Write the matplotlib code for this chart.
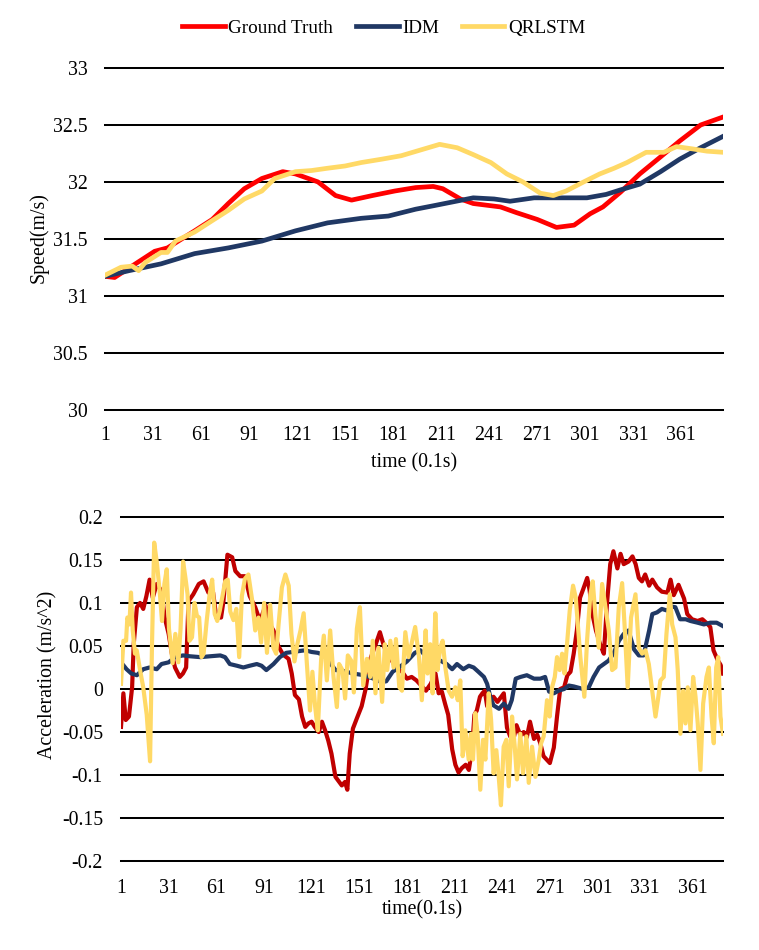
import numpy as np
import matplotlib
matplotlib.use("Agg")
import matplotlib.pyplot as plt

plt.rcParams['font.family'] = ['Liberation Serif', 'DejaVu Serif']

# ---------------- Speed (top panel) ----------------
speed_xticks = [1, 31, 61, 91, 121, 151, 181, 211, 241, 271, 301, 331, 361]
speed_yticks = [30, 30.5, 31, 31.5, 32, 32.5, 33]

gt_speed_t = [1, 7, 20, 32, 40, 57, 68, 78, 88, 99,
              112, 120, 134, 145, 155, 168, 182, 195, 206, 212,
              223, 231, 248, 258, 271, 283, 294, 304, 312, 323,
              335, 348, 360, 373, 387]
gt_speed_v = [31.17, 31.16, 31.28, 31.39, 31.42, 31.57, 31.67, 31.81, 31.94, 32.03,
              32.09, 32.07, 32.00, 31.88, 31.84, 31.88, 31.92, 31.95, 31.96, 31.94,
              31.85, 31.81, 31.78, 31.73, 31.67, 31.60, 31.62, 31.72, 31.78, 31.91,
              32.07, 32.22, 32.36, 32.50, 32.57]

idm_speed_t = [1, 16, 36, 57, 78, 99, 120, 140, 161, 178,
               195, 206, 231, 244, 254, 269, 302, 314, 323, 335,
               348, 360, 373, 387]
idm_speed_v = [31.17, 31.22, 31.28, 31.37, 31.42, 31.48, 31.57, 31.64, 31.68, 31.70,
               31.76, 31.79, 31.86, 31.85, 31.83, 31.86, 31.86, 31.89, 31.93, 31.98,
               32.09, 32.20, 32.30, 32.40]

qr_speed_t = [1, 11, 18, 22, 26, 36, 40, 45, 57, 68,
              78, 88, 99, 107, 120, 130, 140, 151, 161, 174,
              186, 198, 210, 221, 231, 242, 252, 262, 273, 281,
              289, 300, 310, 319, 327, 339, 350, 358, 368, 377,
              387]
qr_speed_v = [31.18, 31.25, 31.26, 31.22, 31.29, 31.38, 31.38, 31.48, 31.56, 31.66,
              31.75, 31.85, 31.92, 32.03, 32.09, 32.10, 32.12, 32.14, 32.17, 32.20,
              32.23, 32.28, 32.33, 32.30, 32.24, 32.17, 32.07, 32.00, 31.90, 31.88,
              31.92, 32.00, 32.07, 32.12, 32.17, 32.26, 32.26, 32.31, 32.29, 32.27,
              32.26]

# ---------------- Acceleration (bottom panel) ----------------
acc_xticks = [1, 31, 61, 91, 121, 151, 181, 211, 241, 271, 301, 331, 361]
acc_yticks = [-0.2, -0.15, -0.1, -0.05, 0, 0.05, 0.1, 0.15, 0.2]
acc_yticklabels = ['-0.2', '-0.15', '-0.1', '-0.05', '0', '0.05', '0.1', '0.15', '0.2']

gt_acc_t = [1, 2.5, 4, 6, 8, 9, 11, 13, 15, 17,
            19, 21, 23.5, 26.5, 28.5, 31, 33, 35, 38, 40,
            42, 43.5, 46.5, 50, 53, 56, 59, 61, 64, 65.5,
            68, 71, 73, 76, 79, 82, 85.5, 88.5, 92, 94,
            97, 100, 103, 106.5, 108.5, 110.5, 113, 115, 117, 119,
            121, 123, 125.5, 127.5, 129.5, 131.5, 133.5, 136, 138, 140,
            142, 143.5, 145, 147, 149.5, 152.5, 155, 158, 161, 164,
            166.5, 168.5, 171.5, 174.5, 178, 181, 184, 187, 190, 193,
            196, 199, 201, 203, 205, 207, 209.5, 211.5, 213.5, 215.5,
            218, 220, 222, 223.5, 225, 227, 228.5, 230, 231.5, 233.5,
            235.5, 238, 240, 242, 244, 246, 248, 250, 252.5, 254.5,
            256.5, 258.5, 261, 263, 265, 267, 269, 271, 273.5, 275.5,
            277.5, 280, 282, 284, 286, 288, 290, 292, 294.5, 296,
            298, 300, 303, 305, 307, 309, 311, 313.5, 315.5, 317.5,
            320.5, 323, 325, 327, 329, 331, 333.5, 335.5, 338.5, 341.5,
            345, 347, 349, 352, 355.5, 357.5, 360.5, 364, 367, 370,
            372, 374, 376.5, 378.5, 380]
gt_acc_v = [-0.044, -0.005, -0.036, -0.032, 0.002, 0.052, 0.095, 0.100, 0.093, 0.108,
            0.127, 0.106, 0.122, 0.114, 0.083, 0.064, 0.041, 0.025, 0.014, 0.018,
            0.025, 0.102, 0.110, 0.122, 0.125, 0.112, 0.112, 0.083, 0.083, 0.102,
            0.156, 0.153, 0.137, 0.131, 0.131, 0.108, 0.095, 0.079, 0.097, 0.077,
            0.068, 0.050, 0.040, 0.035, 0.018, -0.007, -0.012, -0.032, -0.044, -0.040,
            -0.038, -0.044, -0.050, -0.038, -0.048, -0.060, -0.075, -0.102, -0.107, -0.112,
            -0.108, -0.117, -0.075, -0.046, -0.034, -0.020, 0.000, 0.035, 0.050, 0.066,
            0.050, 0.041, 0.033, 0.024, 0.020, 0.012, 0.014, 0.010, 0.004, -0.002,
            0.006, 0.018, -0.005, -0.003, -0.017, -0.030, -0.070, -0.088, -0.097, -0.092,
            -0.088, -0.094, -0.070, -0.030, -0.025, -0.009, -0.005, -0.002, -0.020, -0.013,
            -0.009, -0.015, -0.010, -0.005, -0.045, -0.055, -0.059, -0.042, -0.054, -0.050,
            -0.056, -0.038, -0.058, -0.053, -0.063, -0.078, -0.082, -0.086, -0.068, -0.032,
            0.000, 0.002, 0.016, 0.020, 0.041, 0.068, 0.106, 0.116, 0.129, 0.115,
            0.085, 0.068, 0.050, 0.041, 0.100, 0.145, 0.160, 0.140, 0.157, 0.145,
            0.148, 0.154, 0.145, 0.129, 0.125, 0.133, 0.120, 0.127, 0.118, 0.113,
            0.112, 0.127, 0.109, 0.121, 0.105, 0.087, 0.081, 0.079, 0.081, 0.076,
            0.072, 0.045, 0.034, 0.028, 0.018]

idm_acc_t = [1, 4.5, 7.5, 11, 15, 19, 23.5, 26.5, 31, 35,
             40, 44.5, 51, 57, 63.5, 66.5, 69.5, 74, 78, 82,
             86.5, 89.5, 92.5, 97, 101, 105, 109, 113, 117, 121,
             125, 129, 132, 136, 141, 147, 154, 160, 165, 168,
             172, 176, 181, 186, 189.5, 193.5, 198, 202, 206, 209.5,
             212.5, 216.5, 220, 223, 226, 229.5, 231.5, 233.5, 235.5, 239,
             242, 245, 247, 249.5, 252.5, 256.5, 261, 265, 268, 270.5,
             273.5, 276.5, 280, 283, 286, 288, 292, 295.5, 298.5, 302,
             305, 308, 311, 314.5, 317.5, 320.5, 324, 327, 330, 333.5,
             335.5, 338.5, 341.5, 345, 347, 350, 353, 356.5, 359.5, 364,
             368, 372, 376, 380]
idm_acc_v = [0.031, 0.023, 0.018, 0.016, 0.023, 0.025, 0.023, 0.029, 0.031, 0.037,
             0.039, 0.038, 0.037, 0.038, 0.039, 0.037, 0.029, 0.027, 0.025, 0.027,
             0.029, 0.027, 0.022, 0.029, 0.037, 0.042, 0.043, 0.044, 0.045, 0.043,
             0.042, 0.039, 0.032, 0.022, 0.021, 0.018, 0.016, 0.012, 0.008, 0.009,
             0.020, 0.025, 0.032, 0.042, 0.045, 0.037, 0.035, 0.033, 0.029, 0.023,
             0.029, 0.023, 0.027, 0.025, 0.020, 0.014, 0.006, -0.009, -0.019, -0.023,
             -0.017, -0.023, -0.013, 0.012, 0.014, 0.016, 0.012, 0.012, 0.014, -0.003,
             -0.005, -0.002, 0.000, 0.004, 0.003, 0.002, 0.000, 0.002, 0.014, 0.025,
             0.029, 0.033, 0.041, 0.056, 0.064, 0.068, 0.046, 0.039, 0.039, 0.068,
             0.087, 0.089, 0.093, 0.091, 0.096, 0.095, 0.081, 0.081, 0.079, 0.077,
             0.075, 0.077, 0.077, 0.073]

qr_acc_t = [1, 2.5, 4.2, 5, 6.3, 7.3, 8.4, 9.8, 10.9, 13,
            15, 17.2, 19.3, 20.5, 21.9, 23.7, 25.5, 26.8, 28.3, 29.8,
            31.2, 33.5, 35.2, 37.1, 38.5, 40.1, 41.5, 42.9, 44.1, 45.7,
            47.3, 48.8, 50.2, 51.7, 53, 55, 56.8, 58.4, 60, 61.6,
            63.2, 65.1, 66.6, 68.2, 69.8, 71.8, 73.6, 75.4, 77.1, 79,
            81.2, 83.5, 85.5, 87.6, 89.2, 91.1, 92.9, 94.9, 96.9, 98.7,
            100.2, 102.3, 104.5, 106.6, 108.3, 110.2, 112, 114, 116, 118,
            120, 121.5, 123.2, 124.9, 127, 128.7, 130.6, 132.7, 134.8, 136.9,
            138.3, 140.4, 142.1, 143.8, 145.9, 147.6, 149.5, 151.4, 153.5, 155.8,
            157.9, 159.5, 161.2, 163.1, 165.4, 167.1, 168.6, 170.6, 172.6, 174.1,
            176.2, 177.9, 180, 182, 184.1, 186.2, 188.6, 190.4, 191.6, 192.8,
            194, 195.7, 197.2, 198.9, 200.3, 202, 203.5, 205.2, 207.3, 209.4,
            211.5, 213, 214.6, 216.1, 217.8, 219.9, 221.3, 222.6, 224.1, 225.5,
            227.2, 228.9, 230.4, 232.5, 234, 235.6, 237.3, 238.8, 240.2, 241.9,
            243.6, 245.1, 247.2, 248.9, 250.3, 252.4, 254.1, 256.2, 257.7, 259.8,
            261.9, 264, 265.5, 267.1, 269.2, 270.9, 272.4, 274.1, 275.5, 277.2,
            278.7, 280.2, 281.8, 283.5, 285.6, 287.3, 288.6, 290.2, 292.7, 294.4,
            296.5, 298, 299.6, 301.8, 303.9, 306, 308.1, 310.2, 312.3, 314.4,
            316.5, 318.1, 320, 322.1, 324.9, 327, 329.1, 331.2, 333.3, 335.4,
            337.5, 339, 340.6, 342.7, 344.4, 346.5, 348, 350.1, 351.5, 353.2,
            354.9, 356.4, 357.8, 359.5, 361.2, 362.7, 364.1, 365.8, 367.5, 369.6,
            371.1, 372.8, 374.2, 375.7, 377, 378.4, 380]
qr_acc_v = [0.006, 0.056, 0.056, 0.083, 0.075, 0.112, 0.068, 0.041, 0.045, 0.022,
            0.002, -0.030, -0.084, 0.050, 0.170, 0.145, 0.110, 0.079, 0.122, 0.139,
            0.070, 0.030, 0.064, 0.031, 0.070, 0.148, 0.130, 0.110, 0.056, 0.060,
            0.100, 0.085, 0.083, 0.037, 0.041, 0.080, 0.110, 0.127, 0.087, 0.079,
            0.091, 0.110, 0.125, 0.127, 0.090, 0.080, 0.093, 0.037, 0.108, 0.128,
            0.133, 0.104, 0.068, 0.083, 0.054, 0.100, 0.042, 0.098, 0.048, 0.041,
            0.075, 0.118, 0.133, 0.120, 0.064, 0.032, 0.052, 0.068, 0.088, 0.030,
            -0.025, 0.020, -0.020, -0.048, 0.035, 0.062, 0.010, 0.068, 0.014, -0.021,
            0.029, 0.022, -0.011, 0.039, 0.033, -0.004, 0.070, 0.095, 0.004, 0.035,
            0.014, 0.056, -0.005, 0.048, -0.015, 0.052, 0.022, 0.056, 0.025, 0.058,
            0.002, -0.002, 0.066, 0.037, 0.054, 0.072, 0.037, -0.013, 0.030, 0.068,
            0.018, 0.052, -0.005, 0.088, 0.022, 0.048, 0.056, 0.025, -0.002, -0.009,
            0.002, -0.013, 0.010, -0.078, -0.048, -0.082, -0.052, -0.082, -0.028, -0.052,
            -0.117, -0.059, -0.082, -0.005, -0.036, -0.098, -0.071, -0.102, -0.135, -0.067,
            -0.059, -0.113, -0.032, -0.067, -0.105, -0.052, -0.098, -0.055, -0.109, -0.067,
            -0.102, -0.082, -0.063, -0.055, -0.013, -0.032, 0.002, 0.014, 0.037, 0.022,
            0.041, 0.018, 0.052, 0.091, 0.120, 0.106, 0.075, 0.037, -0.009, 0.056,
            0.110, 0.125, 0.087, 0.048, 0.122, 0.095, 0.068, 0.022, 0.025, 0.095,
            0.123, 0.072, 0.002, 0.083, 0.110, 0.048, 0.041, 0.045, 0.029, -0.002,
            -0.032, -0.013, 0.010, 0.014, 0.064, 0.110, 0.075, 0.060, 0.022, -0.052,
            -0.002, -0.040, 0.002, -0.048, 0.014, -0.009, -0.040, -0.094, -0.017, 0.014,
            0.025, -0.032, -0.063, 0.025, 0.037, -0.032, -0.052]

series_names = ['Ground Truth', 'IDM', 'QRLSTM']

# ---------------- Figure ----------------
W, H = 759, 950
fig = plt.figure(figsize=(W / 100, H / 100), dpi=100)

def px_axes(left, right, top, bottom):
    return fig.add_axes([left / W, 1 - bottom / H, (right - left) / W, (bottom - top) / H])

ax1 = px_axes(105, 723, 68.1, 409.5)
ax2 = px_axes(121, 723, 516.8, 861.2)

GRID_C = 'black'
GRID_LW = 1.45

def style(ax, yticks, ylabels, xticks, xlim, ylim, ypad, xpad):
    for s in ax.spines.values():
        s.set_visible(False)
    for y in yticks:
        ax.axhline(y, color=GRID_C, lw=GRID_LW, zorder=0, clip_on=False)
    ax.set_xlim(*xlim)
    ax.set_ylim(*ylim)
    ax.set_yticks(yticks)
    ax.set_yticklabels(ylabels)
    ax.set_xticks(xticks)
    ax.set_xticklabels([str(x) for x in xticks])
    ax.tick_params(axis='both', length=0, labelsize=14.3, colors='black')
    ax.tick_params(axis='y', pad=ypad)
    ax.tick_params(axis='x', pad=xpad)

style(ax1, speed_yticks, [('%g' % v) for v in speed_yticks], speed_xticks,
      (1, 387), (30, 33), 12.5, 12)
style(ax2, acc_yticks, acc_yticklabels, acc_xticks,
      (1, 380), (-0.2, 0.2), 13, 13)

LW_TOP = 3.4
LW_BOT = 3.0
c_gt_top = '#FF0000'
c_gt_bot = '#C00000'
c_idm = '#203864'
c_qr = '#FFD966'

l1, = ax1.plot(gt_speed_t, gt_speed_v, color=c_gt_top, lw=LW_TOP, solid_joinstyle='round', zorder=3)
l2, = ax1.plot(idm_speed_t, idm_speed_v, color=c_idm, lw=LW_TOP, solid_joinstyle='round', zorder=3)
l3, = ax1.plot(qr_speed_t, qr_speed_v, color=c_qr, lw=LW_TOP, solid_joinstyle='round', zorder=3)

ax2.plot(gt_acc_t, gt_acc_v, color=c_gt_bot, lw=LW_BOT, solid_joinstyle='round', zorder=3)
ax2.plot(idm_acc_t, idm_acc_v, color=c_idm, lw=LW_BOT, solid_joinstyle='round', zorder=3)
ax2.plot(qr_acc_t, qr_acc_v, color=c_qr, lw=LW_BOT, solid_joinstyle='round', zorder=3)

fig.legend([l1, l2, l3], series_names, loc='center', bbox_to_anchor=(384 / W, 1 - 28 / H),
           ncol=3, frameon=False, fontsize=13.8, handlelength=2.2, handletextpad=0.2,
           columnspacing=1.2)

# axis titles
fig.text(414 / W, 1 - 463 / H, 'time (0.1s)', ha='center', va='center', fontsize=14.3)
fig.text(39 / W, 1 - 238 / H, 'Speed(m/s)', ha='center', va='center', rotation=90, fontsize=14.3)
fig.text(422 / W, 1 - 910 / H, 'time(0.1s)', ha='center', va='center', fontsize=14.3)
fig.text(48 / W, 1 - 675 / H, 'Acceleration (m/s^2)', ha='center', va='center', rotation=90, fontsize=14.3)

fig.savefig('out.png', dpi=100)
